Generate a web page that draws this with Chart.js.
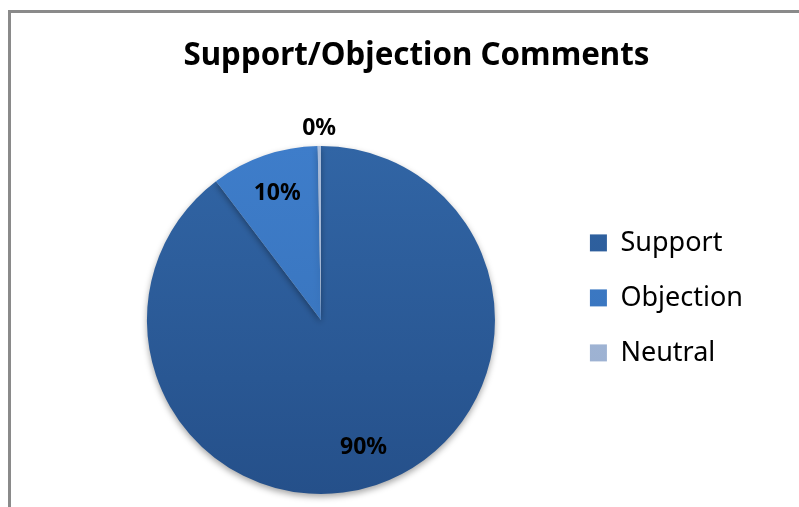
<!DOCTYPE html>
<html>
<head>
<meta charset="utf-8">
<script src="https://cdn.jsdelivr.net/npm/chart.js@4.4.1/dist/chart.umd.min.js"></script>
<style>
  html, body { margin: 0; padding: 0; background: #fff; }
  body { width: 799px; height: 507px; overflow: hidden; position: relative; }
  #frame {
    position: absolute; left: 8px; top: 10px; width: 900px; height: 600px;
    border-left: 3px solid #8a8a8a; border-top: 3px solid #8a8a8a;
  }
  #wrap { position: absolute; left: 0; top: 0; width: 799px; height: 507px; }
</style>
</head>
<body>
<div id="frame"></div>
<div id="wrap"><canvas id="chart"></canvas></div>
<script>
const categories = ["Support", "Objection", "Neutral"];
const shares = [89.7, 10.0, 0.3];
// top / bottom shade of each slice
const sliceTop = ["#3165a5", "#3e7dca", "#a9bddc"];
const sliceBottom = ["#25508a", "#3670b7", "#96abcc"];

const FONT = "'Noto Sans', 'Open Sans', sans-serif";

function sliceFill(context) {
  const i = context.dataIndex;
  const area = context.chart.chartArea;
  if (!area) return sliceTop[i];
  const g = context.chart.ctx.createLinearGradient(0, area.top, 0, area.bottom);
  g.addColorStop(0, sliceTop[i]);
  g.addColorStop(1, sliceBottom[i]);
  return g;
}

// soft shadow under the pie, like the spreadsheet original
const pieShadow = {
  id: "pieShadow",
  beforeDatasetsDraw(chart) {
    const ctx = chart.ctx;
    ctx.save();
    ctx.shadowColor = "rgba(0,0,0,0.35)";
    ctx.shadowBlur = 6;
    ctx.shadowOffsetY = 3;
  },
  afterDatasetsDraw(chart) {
    chart.ctx.restore();
  }
};

// percentage labels, inside the slice or just outside for tiny ones
const sliceLabels = {
  id: "sliceLabels",
  afterDatasetsDraw(chart) {
    const ctx = chart.ctx;
    const meta = chart.getDatasetMeta(0);
    const total = shares.reduce((a, b) => a + b, 0);
    ctx.save();
    ctx.font = "bold 23px " + FONT;
    ctx.fillStyle = "#000";
    ctx.textAlign = "center";
    ctx.textBaseline = "middle";
    meta.data.forEach((arc, i) => {
      const p = arc.getProps(["x", "y", "startAngle", "endAngle", "outerRadius"], true);
      const pct = shares[i] / total * 100;
      const mid = (p.startAngle + p.endAngle) / 2;
      const dist = pct < 2 ? p.outerRadius + 18 : p.outerRadius * 0.77;
      ctx.fillText(Math.round(pct) + "%", p.x + Math.cos(mid) * dist, p.y + Math.sin(mid) * dist);
    });
    ctx.restore();
  }
};

function draw() {
  new Chart(document.getElementById("chart"), {
    type: "pie",
    data: {
      labels: categories,
      datasets: [{
        data: shares,
        backgroundColor: sliceFill,
        borderWidth: 0
      }]
    },
    plugins: [pieShadow, sliceLabels],
    options: {
      responsive: true,
      maintainAspectRatio: false,
      animation: false,
      layout: { padding: { left: 80, right: 46, top: 0, bottom: 13 } },
      plugins: {
        title: {
          display: true,
          text: "Support/Objection Comments",
          color: "#000",
          font: { family: FONT, size: 31.3, weight: "bold", lineHeight: 1.2 },
          padding: { top: 37.2, bottom: 71.2 }
        },
        legend: {
          position: "right",
          align: "start",
          title: { display: true, text: "", font: { size: 12 }, padding: { top: 100, bottom: 87 } },
          labels: {
            color: "#000",
            boxWidth: 17,
            boxHeight: 17,
            padding: 28,
            font: { family: FONT, size: 27 }
          }
        },
        tooltip: { enabled: false }
      }
    }
  });
}

// make sure the text is measured with the real font
Promise.all([
  document.fonts.load("27px 'Noto Sans'"),
  document.fonts.load("bold 27px 'Noto Sans'")
]).then(draw, draw);
</script>
</body>
</html>
